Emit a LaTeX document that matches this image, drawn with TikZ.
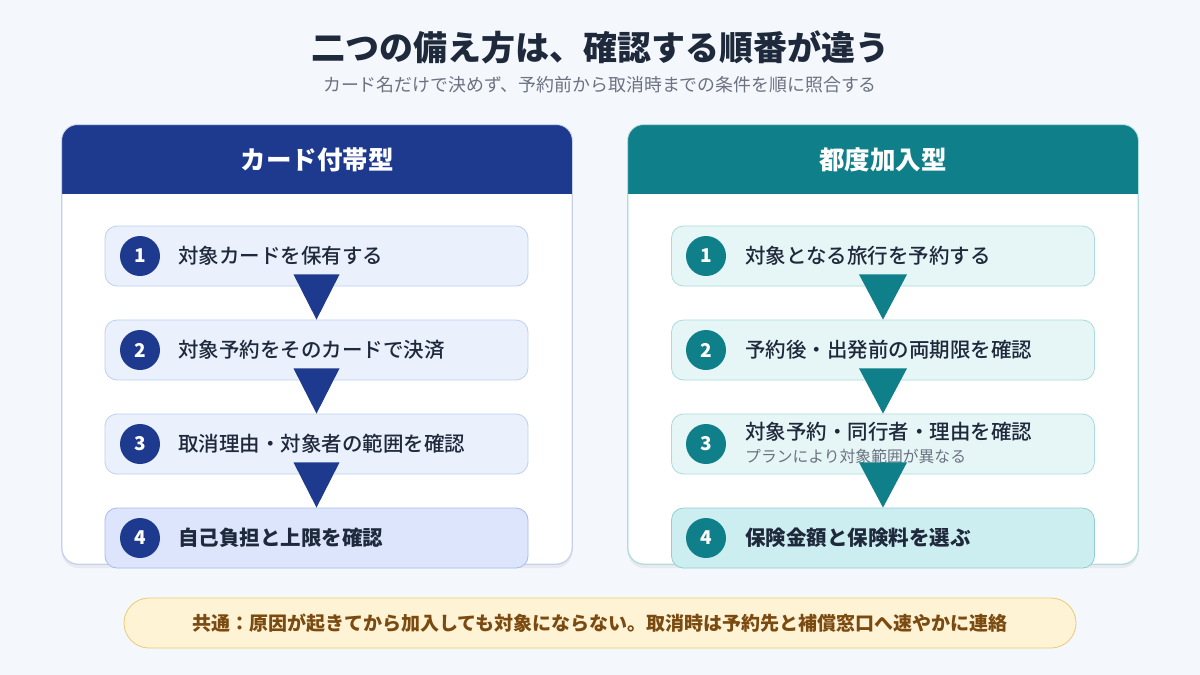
\documentclass[tikz,border=0pt]{standalone}
\usepackage{fontspec}
\setmainfont{Noto Sans CJK JP}
\IfFontExistsTF{Noto Sans CJK JP Black}
  {\newfontfamily\heavyjp{Noto Sans CJK JP Black}}
  {\newfontfamily\heavyjp{Noto Sans CJK JP}[UprightFont=*, BoldFont=*, AutoFakeBold=2]\def\heavyfix{\bfseries}}
\providecommand\heavyfix{}
\IfFontExistsTF{Noto Sans CJK JP Medium}
  {\newfontfamily\mediumjp{Noto Sans CJK JP Medium}}
  {\newfontfamily\mediumjp{Noto Sans CJK JP}}
\usetikzlibrary{shadows}
\definecolor{pagebg}{HTML}{F4F7FC}
\definecolor{ink}{HTML}{1E293B}
\definecolor{subgray}{HTML}{6B7280}
\definecolor{navy}{HTML}{1E3A8F}
\definecolor{navyedge}{HTML}{C6D2EC}
\definecolor{navybox}{HTML}{EAF0FC}
\definecolor{navyline}{HTML}{BFCFEF}
\definecolor{navylast}{HTML}{DCE5FC}
\definecolor{navylastline}{HTML}{A8BCEA}
\definecolor{teal}{HTML}{0F7F89}
\definecolor{tealedge}{HTML}{B2DCDE}
\definecolor{tealbox}{HTML}{E6F6F6}
\definecolor{tealline}{HTML}{ABDADC}
\definecolor{teallast}{HTML}{CDEEF0}
\definecolor{teallastline}{HTML}{93CDD2}
\definecolor{notefill}{HTML}{FEF3D4}
\definecolor{noteline}{HTML}{EDCB72}
\definecolor{notetext}{HTML}{7B4A10}
\begin{document}
\begin{tikzpicture}[x=1pt, y=-1pt, font=\mediumjp\fontsize{20.5}{24}\selectfont,
          panel/.style={draw, fill=white, rounded corners=16pt, line width=0.8pt, minimum width=510pt, minimum height=439pt,
            drop shadow={opacity=0.10, shadow xshift=0pt, shadow yshift=-4pt}},
          head/.style={text=white, font=\heavyjp\heavyfix\fontsize{25.5}{30}\selectfont},
          stepbox/.style={draw, rounded corners=12pt, line width=0.8pt, minimum width=423pt, minimum height=60pt},
          num/.style={circle, minimum size=40pt, inner sep=0pt, text=white, font=\heavyjp\heavyfix\fontsize{19}{19}\selectfont},
          steptxt/.style={anchor=west, text=ink, inner sep=0pt},
          laststep/.style={steptxt, font=\heavyjp\heavyfix\fontsize{20.5}{24}\selectfont}]
        \useasboundingbox (0,0) rectangle (1200,675);
        \fill[pagebg] (0,0) rectangle (1200,675);
        % title
        \node[text=ink, font=\heavyjp\heavyfix\fontsize{34}{38}\selectfont] (title) at (600,47) {二つの備え方は、確認する順番が違う};
        \node[text=subgray, font=\rmfamily\fontsize{17.9}{21}\selectfont] (subtitle) at (600,85) {カード名だけで決めず、予約前から取消時までの条件を順に照合する};
        % card panel
        \node[panel, draw=navyedge] (cardpanel) at (317,344.5) {};
        \begin{scope}
          \clip[rounded corners=16pt] (cardpanel.north west) rectangle (cardpanel.south east);
          \fill[navy] (cardpanel.north west) rectangle ++(510,69);
        \end{scope}
        \draw[navyedge, line width=0.8pt, rounded corners=16pt] (cardpanel.north west) rectangle (cardpanel.south east);
        \node[head] (cardhead) at (317,160) {カード付帯型};
        \node[stepbox, draw=navyline, fill=navybox] (card1) at (316.5,256) {};
        \node[stepbox, draw=navyline, fill=navybox] (card2) at (316.5,350) {};
        \node[stepbox, draw=navyline, fill=navybox] (card3) at (316.5,444) {};
        \node[stepbox, draw=navylastline, fill=navylast] (card4) at (316.5,538) {};
        \fill[navy] (card1.south) ++(-23,-12) -- ++(46,0) -- (card2.north) -- cycle;
        \fill[navy] (card2.south) ++(-23,-12) -- ++(46,0) -- (card3.north) -- cycle;
        \fill[navy] (card3.south) ++(-23,-12) -- ++(46,0) -- (card4.north) -- cycle;
        \node[num, fill=navy] (cardn1) at (140,256) {1};
        \node[num, fill=navy] (cardn2) at (140,350) {2};
        \node[num, fill=navy] (cardn3) at (140,444) {3};
        \node[num, fill=navy] (cardn4) at (140,538) {4};
        \node[steptxt] (cardt1) at (178,256) {対象カードを保有する};
        \node[steptxt] (cardt2) at (178,350) {対象予約をそのカードで決済};
        \node[steptxt] (cardt3) at (178,444) {取消理由・対象者の範囲を確認};
        \node[laststep] (cardt4) at (178,538) {自己負担と上限を確認};
        % trip panel
        \node[panel, draw=tealedge] (trippanel) at (883,344.5) {};
        \begin{scope}
          \clip[rounded corners=16pt] (trippanel.north west) rectangle (trippanel.south east);
          \fill[teal] (trippanel.north west) rectangle ++(510,69);
        \end{scope}
        \draw[tealedge, line width=0.8pt, rounded corners=16pt] (trippanel.north west) rectangle (trippanel.south east);
        \node[head] (triphead) at (883,160) {都度加入型};
        \node[stepbox, draw=tealline, fill=tealbox] (trip1) at (883,256) {};
        \node[stepbox, draw=tealline, fill=tealbox] (trip2) at (883,350) {};
        \node[stepbox, draw=tealline, fill=tealbox] (trip3) at (883,444) {};
        \node[stepbox, draw=teallastline, fill=teallast] (trip4) at (883,538) {};
        \node[num, fill=teal] (tripn1) at (706,256) {1};
        \node[num, fill=teal] (tripn2) at (706,350) {2};
        \node[num, fill=teal] (tripn3) at (706,444) {3};
        \node[num, fill=teal] (tripn4) at (706,538) {4};
        \node[steptxt] (tript1) at (745,256) {対象となる旅行を予約する};
        \node[steptxt] (tript2) at (745,350) {予約後・出発前の両期限を確認};
        \node[steptxt] (tript3) at (745,432) {対象予約・同行者・理由を確認};
        \node[steptxt, text=subgray, font=\rmfamily\fontsize{15.8}{18}\selectfont] (tripsub3) at (745,456) {プランにより対象範囲が異なる};
        \node[laststep] (tript4) at (745,538) {保険金額と保険料を選ぶ};
        \fill[teal] (trip1.south) ++(-24,-12) -- ++(48,0) -- (trip2.north) -- cycle;
        \fill[teal] (trip2.south) ++(-24,-12) -- ++(48,0) -- (trip3.north) -- cycle;
        \fill[teal] (trip3.south) ++(-24,-12) -- ++(48,0) -- (trip4.north) -- cycle;
        % common note
        \node[draw=noteline, fill=notefill, line width=0.8pt, rounded corners=25pt, minimum width=952pt, minimum height=50pt,
          text=notetext, font=\rmfamily\bfseries\fontsize{19}{22}\selectfont] (note) at (600,623)
          {共通：原因が起きてから加入しても対象にならない。取消時は予約先と補償窓口へ速やかに連絡};
      \end{tikzpicture}
\end{document}
